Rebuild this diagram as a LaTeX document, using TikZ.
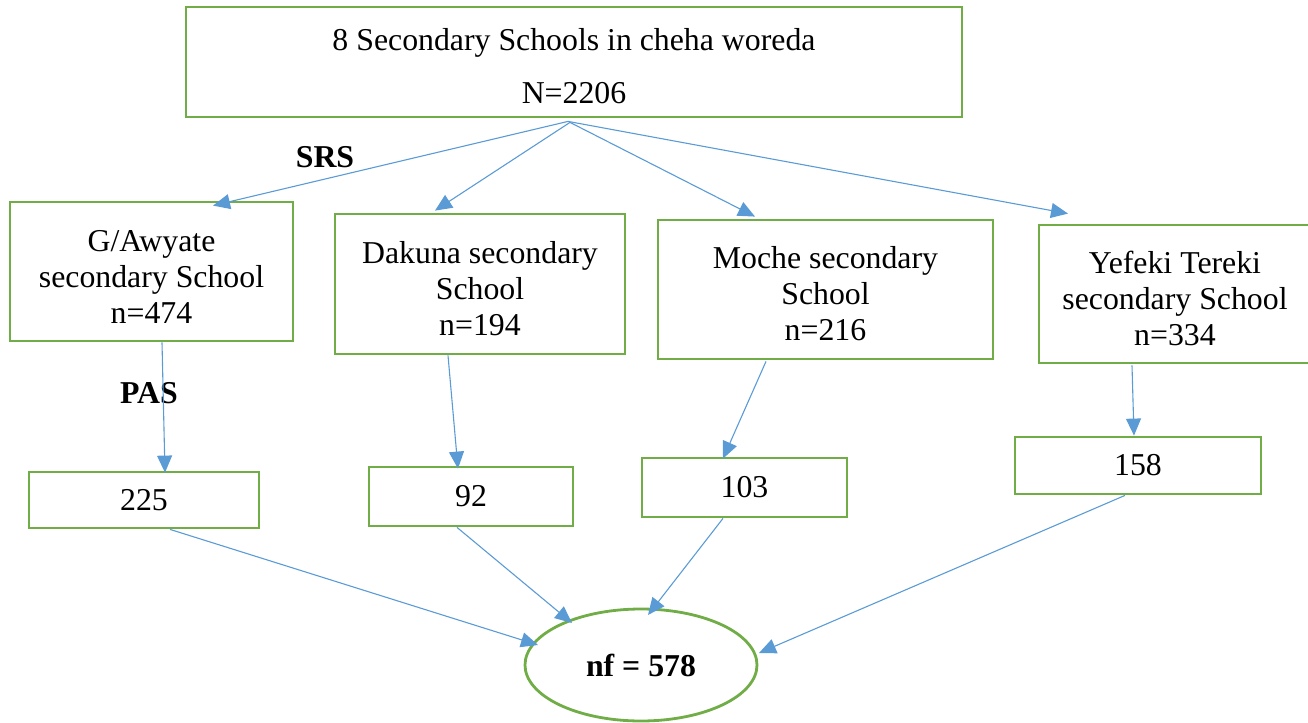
\documentclass[tikz,border=0pt]{standalone}
\usepackage{fontspec}
\setmainfont{Liberation Serif}
\usetikzlibrary{arrows.meta,calc,shapes.geometric}
\definecolor{boxgreen}{HTML}{70AD47}
\definecolor{arrowblue}{HTML}{5B9BD5}
\newcommand{\topstrut}{\rule{0pt}{15.5pt}}
\tikzset{
  box/.style={draw=boxgreen,line width=1.4pt,fill=white,rectangle,align=center,inner sep=0pt,
    font=\fontsize{15.9}{18}\selectfont},
  oval/.style={draw=boxgreen,line width=1.4pt,ellipse,inner sep=0pt,
    font=\fontsize{15.9}{18}\selectfont\bfseries},
  conn/.style={draw=arrowblue,line width=0.55pt,-{Triangle[length=8.5pt,width=7.5pt]}},
  lbl/.style={font=\fontsize{15.9}{18}\selectfont\bfseries,inner sep=0pt}
}
\begin{document}
\begin{tikzpicture}[x=0.5pt,y=-0.5pt]
\useasboundingbox (0,0) rectangle (1308,723);
\node[box,minimum width=388pt,minimum height=55pt] (top) at (574,62) {\topstrut 8 Secondary Schools in cheha woreda\\[8.5pt]N=2206};
\node[box,minimum width=141.5pt,minimum height=69.5pt] (b1) at (151.5,271.5) {\topstrut G/Awyate\\secondary School\\n=474};
\node[box,minimum width=145pt,minimum height=70pt] (b2) at (480,284) {\topstrut Dakuna secondary\\School\\n=194};
\node[box,minimum width=167.5pt,minimum height=69.5pt] (b3) at (825.5,289.5) {\topstrut Moche secondary\\School\\n=216};
\node[box,minimum width=136pt,minimum height=69pt] (b4) at (1175,294) {\topstrut Yefeki Tereki\\secondary School\\n=334};
\node[box,minimum width=115pt,minimum height=28pt] (c1) at (144,500) {225};
\node[box,minimum width=102pt,minimum height=29.5pt] (c2) at (471,496.5) {92};
\node[box,minimum width=102.5pt,minimum height=29.5pt] (c3) at (744.5,487.5) {103};
\node[box,minimum width=123pt,minimum height=28.5pt] (c4) at (1138,465.5) {158};
\node[oval,minimum width=116pt,minimum height=56pt] (ell) at (641,665) {nf = 578};
\node[lbl] (srs) at (325,157) {SRS};
\node[lbl] (pas) at (149,393) {PAS};
% top to schools
\draw[conn] ($(top.south)+(-6,3)$) -- ($(b1.north)+(61.5,5)$);
\draw[conn] ($(top.south)+(-4,4)$) -- ($(b2.north)+(-45,-2)$);
\draw[conn] ($(top.south)+(-4,4)$) -- ($(b3.north)+(-70.5,-2)$);
\draw[conn] ($(top.south)+(-6,3)$) -- ($(b4.north)+(-107,-10)$);
% schools to samples
\draw[conn] ($(b1.south)+(10.5,0)$) -- ($(c1.north)+(21,2)$);
\draw[conn] ($(b2.south)+(-32,0)$) -- ($(c2.north)+(-13,3)$);
\draw[conn] ($(b3.south)+(-59.5,1)$) -- ($(c3.north)+(-21.5,2)$);
\draw[conn] ($(b4.south)+(-43,1)$) -- ($(c4.north)+(-4,0)$);
% samples to total
\draw[conn] ($(c1.south)+(26,0)$) -- ($(ell.center)+(-103,-20)$);
\draw[conn] ($(c2.south)+(-14,0)$) -- ($(ell.center)+(-69,-42)$);
\draw[conn] ($(c3.south)+(-21.5,0)$) -- ($(ell.center)+(7,-50)$);
\draw[conn] ($(c4.south)+(-13,0)$) -- ($(ell.center)+(118,-12)$);
\end{tikzpicture}
\end{document}
